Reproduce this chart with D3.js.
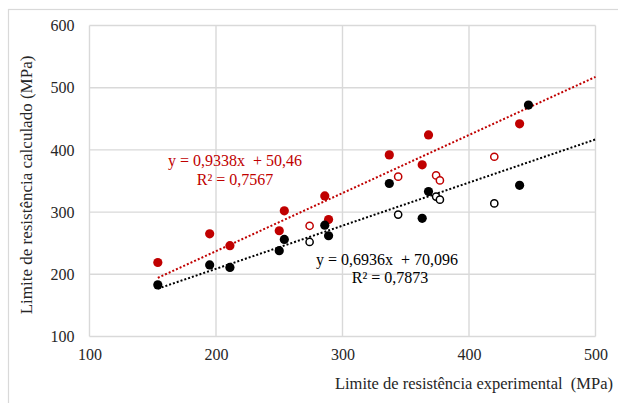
<!DOCTYPE html>
<html>
<head>
<meta charset="utf-8">
<script src="https://cdn.jsdelivr.net/npm/d3@7"></script>
<style>
  body { margin: 0; background: #fff; }
  svg { display: block; font-family: "Liberation Serif", "Times New Roman", serif; }
</style>
</head>
<body>
<div id="chart"></div>
<script>
// data (MPa)
const filledX = [154, 195, 211, 250, 254, 286, 289, 337, 363, 368, 440, 447];
const filledRed = [219, 265, 246, 270, 302, 326, 288, 392, 376, 424, 442, null];
const filledBlack = [183, 215, 211, 238, 256, 279, 262, 346, 290, 333, 343, 472];

const openX = [274, 344, 374, 377, 420];
const openRed = [278, 357, 359, 351, 389];
const openBlack = [252, 296, 325, 320, 314];

// trend lines: [slope, intercept], drawn from the lowest x to 500
const trendRed = [0.9338, 50.46];
const trendBlack = [0.6936, 70.096];
const trendRange = [154, 500];

const xTicks = [100, 200, 300, 400, 500];
const yTicks = [100, 200, 300, 400, 500, 600];

const RED = '#c00000';
const GRID = '#d9d9d9';

const W = 618, H = 403;
const svg = d3.select('#chart').append('svg')
    .attr('width', W)
    .attr('height', H);

// outer chart border (runs off the right / bottom edge)
svg.append('rect')
    .attr('x', 8.5).attr('y', 9.5)
    .attr('width', 700).attr('height', 500)
    .attr('fill', 'none')
    .attr('stroke', GRID)
    .attr('stroke-width', 1.2);

const x = d3.scaleLinear().domain([100, 500]).range([89.5, 595.5]);
const y = d3.scaleLinear().domain([100, 600]).range([336.5, 25.5]);

const g = svg.append('g');

// gridlines
g.selectAll('.vgrid').data(xTicks).join('line')
    .attr('class', 'vgrid')
    .attr('x1', d => x(d)).attr('x2', d => x(d))
    .attr('y1', y(100)).attr('y2', y(600))
    .attr('stroke', GRID).attr('stroke-width', 1.4);

g.selectAll('.hgrid').data(yTicks).join('line')
    .attr('class', 'hgrid')
    .attr('x1', x(100)).attr('x2', x(500))
    .attr('y1', d => y(d)).attr('y2', d => y(d))
    .attr('stroke', GRID).attr('stroke-width', 1.4);

// axes (labels only)
const yAxis = g.append('g')
    .attr('transform', `translate(${x(100)},0)`)
    .call(d3.axisLeft(y).tickValues(yTicks).tickSize(0).tickPadding(15).tickFormat(d3.format('d')));
yAxis.select('.domain').remove();
yAxis.selectAll('text')
    .attr('font-size', 16)
    .attr('font-family', 'Liberation Serif')
    .attr('fill', '#262626');

const xAxis = g.append('g')
    .attr('transform', `translate(0,${y(100)})`)
    .call(d3.axisBottom(x).tickValues(xTicks).tickSize(0).tickPadding(12).tickFormat(d3.format('d')));
xAxis.select('.domain').remove();
xAxis.selectAll('text')
    .attr('font-size', 16)
    .attr('font-family', 'Liberation Serif')
    .attr('fill', '#262626');

// axis titles
svg.append('text')
    .attr('transform', `translate(32,${(y(100) + y(600)) / 2 + 4}) rotate(-90)`)
    .attr('text-anchor', 'middle')
    .attr('font-size', 17)
    .attr('fill', '#262626')
    .text('Limite de resistência calculado  (MPa)');

svg.append('text')
    .attr('x', 613)
    .attr('y', 389)
    .attr('text-anchor', 'end')
    .attr('font-size', 16.5)
    .attr('fill', '#262626')
    .style('white-space', 'pre')
    .text('Limite de resistência experimental  (MPa)');

// trend lines
const line = d3.line().x(d => x(d[0])).y(d => y(d[1]));
function trendPts(t) {
    return trendRange.map(v => [v, t[0] * v + t[1]]);
}

g.append('path')
    .datum(trendPts(trendBlack))
    .attr('d', line)
    .attr('fill', 'none')
    .attr('stroke', '#000')
    .attr('stroke-width', 2)
    .attr('stroke-dasharray', '2,2');

g.append('path')
    .datum(trendPts(trendRed))
    .attr('d', line)
    .attr('fill', 'none')
    .attr('stroke', RED)
    .attr('stroke-width', 2)
    .attr('stroke-dasharray', '2,2');

// markers
function dots(xs, ys, cls, fill, stroke, r, sw) {
    const pts = xs.map((v, i) => ({ x: v, y: ys[i] })).filter(d => d.y != null);
    g.selectAll('.' + cls).data(pts).join('circle')
        .attr('class', cls)
        .attr('cx', d => x(d.x))
        .attr('cy', d => y(d.y))
        .attr('r', r)
        .attr('fill', fill)
        .attr('stroke', stroke)
        .attr('stroke-width', sw);
}

dots(filledX, filledRed, 'fred', RED, 'none', 4.6, 0);
dots(filledX, filledBlack, 'fblack', '#000', 'none', 4.6, 0);
dots(openX, openRed, 'ored', '#fff', RED, 3.6, 1.5);
dots(openX, openBlack, 'oblack', '#fff', '#000', 3.6, 1.5);

// trend equations
const eqRed = svg.append('text')
    .attr('text-anchor', 'middle')
    .attr('font-size', 16)
    .attr('fill', RED)
    .style('white-space', 'pre');
eqRed.append('tspan').attr('x', 235).attr('y', 166).text('y = 0,9338x  + 50,46');
eqRed.append('tspan').attr('x', 235).attr('y', 185).text('R² = 0,7567');

const eqBlack = svg.append('text')
    .attr('text-anchor', 'middle')
    .attr('font-size', 16)
    .attr('fill', '#000')
    .style('white-space', 'pre');
eqBlack.append('tspan').attr('x', 387).attr('y', 265).text('y = 0,6936x  + 70,096');
eqBlack.append('tspan').attr('x', 390).attr('y', 283).text('R² = 0,7873');
</script>
</body>
</html>
